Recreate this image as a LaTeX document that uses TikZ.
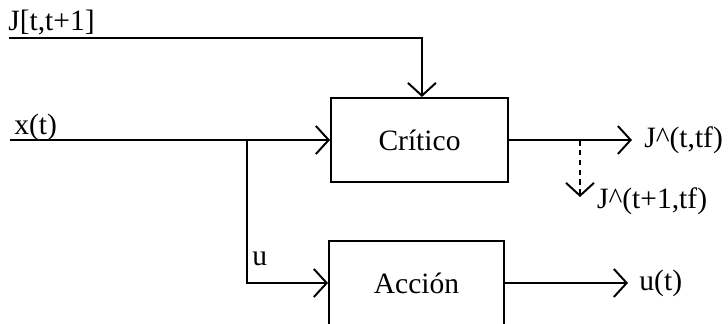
\documentclass[tikz,border=0pt]{standalone}
\usepackage{fontspec}
\setmainfont{Liberation Serif}
\usepackage{tikz}
\usetikzlibrary{arrows.meta}

\tikzset{
  block/.style={draw,line width=1.4pt,minimum width=4.425cm,minimum height=2.1cm},
  flow/.style={line width=1.4pt,-{Straight Barb[length=3.2mm,width=7mm,line width=1.4pt]}},
  lbl/.style={inner sep=0pt}
}

\begin{document}
\begin{tikzpicture}[font=\fontsize{21}{25}\selectfont]
      \useasboundingbox (0,0) rectangle (18.2,8.075);

      \node [block] (critico) at (10.4875,4.575) {Crítico};
      \node [block,minimum width=4.375cm] (accion) at (10.4125,1.0) {Acción};

      \coordinate (jin) at (0.225,7.125);
      \coordinate (xin) at (0.25,4.575);
      \coordinate (branch) at (6.175,4.575);
      \coordinate (jout) at (15.8,4.575);
      \coordinate (tap) at (14.5,4.575);
      \coordinate (tapend) at (14.5,3.15);
      \coordinate (uout) at (15.7,1.0);

      \draw [flow] (jin) -| ([xshift=0.06cm]critico.north);
      \draw [flow] (xin) -- (critico.west);
      \draw [flow] (branch) |- (accion.west);
      \draw [flow] (critico.east) -- (jout);
      \draw [flow,dash pattern=on 4pt off 3pt] (tap) -- (tapend);
      \draw [flow] (accion.east) -- (uout);

      \node [lbl,anchor=base west] (jlabel) at (0.2,7.3) {J[t,t+1]};
      \node [lbl,anchor=base west] (xlabel) at (0.35,4.72) {x(t)};
      \node [lbl,anchor=base west] (ulabel) at (6.3,1.45) {u};
      \node [lbl,anchor=west] (jnow) at ([xshift=0.3cm]jout) {J\textasciicircum(t,tf)};
      \node [lbl,anchor=west] (jnext) at ([xshift=0.42cm,yshift=-0.1cm]tapend) {J\textasciicircum(t+1,tf)};
      \node [lbl,anchor=west] (ulbl) at ([xshift=0.28cm]uout) {u(t)};

\end{tikzpicture}
\end{document}
